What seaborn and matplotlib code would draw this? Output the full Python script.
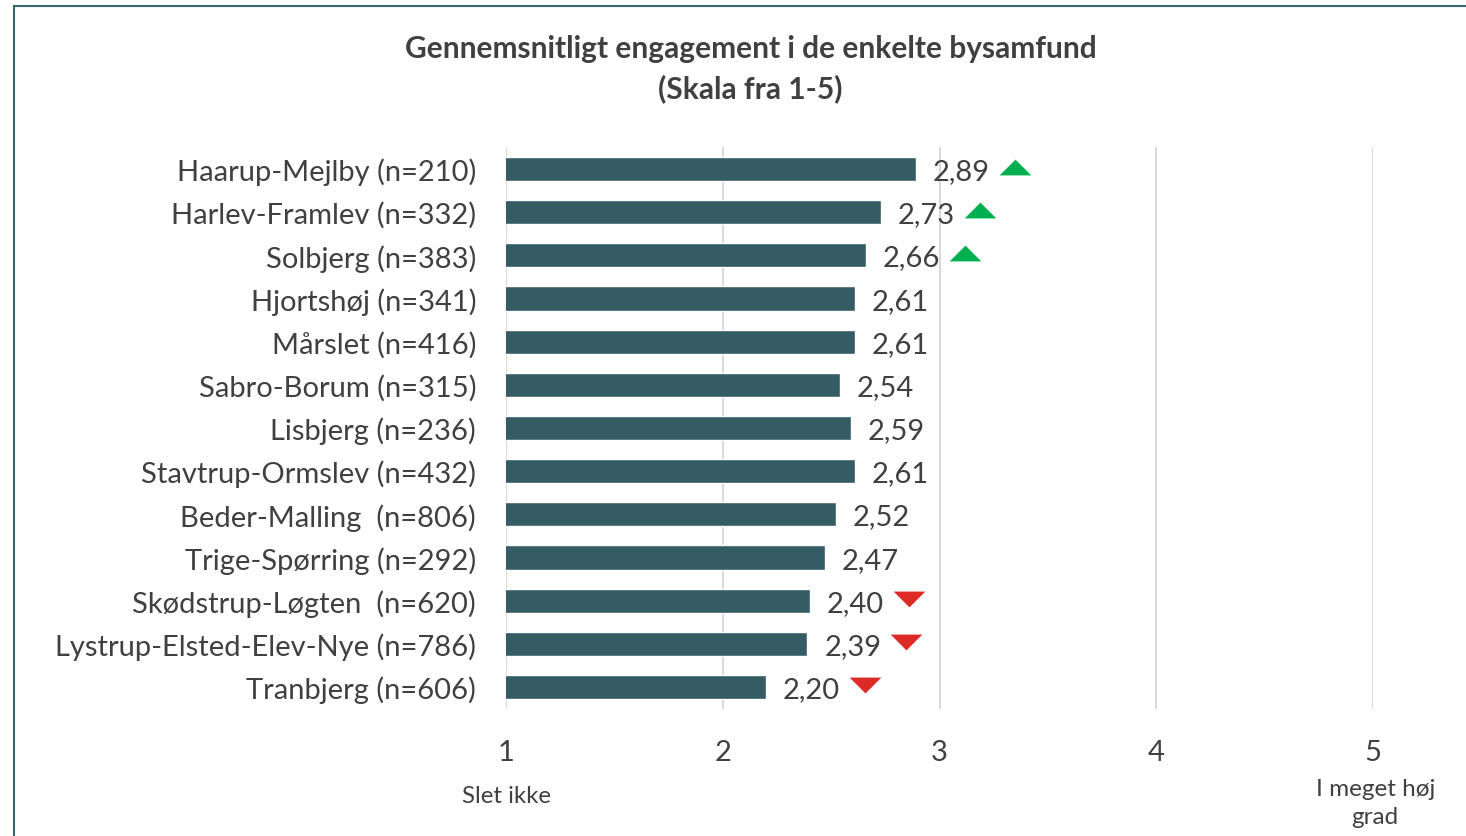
import matplotlib
matplotlib.use("Agg")
import matplotlib.pyplot as plt
import matplotlib.transforms as mtransforms
from matplotlib.patches import Rectangle
import seaborn as sns
import pandas as pd

categories = [
    "Haarup-Mejlby (n=210)",
    "Harlev-Framlev (n=332)",
    "Solbjerg (n=383)",
    "Hjortshøj (n=341)",
    "Mårslet (n=416)",
    "Sabro-Borum (n=315)",
    "Lisbjerg (n=236)",
    "Stavtrup-Ormslev (n=432)",
    "Beder-Malling  (n=806)",
    "Trige-Spørring (n=292)",
    "Skødstrup-Løgten  (n=620)",
    "Lystrup-Elsted-Elev-Nye (n=786)",
    "Tranbjerg (n=606)",
]
values = [2.89, 2.73, 2.66, 2.61, 2.61, 2.54, 2.59, 2.61, 2.52, 2.47, 2.40, 2.39, 2.20]
trend = [1, 1, 1, 0, 0, 0, 0, 0, 0, 0, -1, -1, -1]
xticks = [1, 2, 3, 4, 5]

BAR = "#355C64"
TXT = "#404040"
GREEN = "#00B050"
RED = "#DD2A27"
FONT = ["Lato", "DejaVu Sans"]

sns.set_theme(style="white")
plt.rcParams["font.family"] = FONT

df = pd.DataFrame({"cat": categories, "val": values})

fig = plt.figure(figsize=(14.66, 8.37), dpi=100)
ax = fig.add_axes([0.3452, 0.1522, 0.5914, 0.6705])

sns.barplot(data=df, x="val", y="cat", orient="h", color=BAR, saturation=1,
            width=0.56, ax=ax, zorder=3)

ax.set_xlim(1, 5)
ax.set_ylim(len(categories) - 0.5, -0.5)
ax.set_xticks(xticks)
ax.set_xticklabels([str(t) for t in xticks])
ax.grid(axis="x", color="#D9D9D9", linewidth=1.5, zorder=0)
ax.grid(axis="y", visible=False)
for s in ax.spines.values():
    s.set_visible(False)
ax.set_xlabel("")
ax.set_ylabel("")
ax.tick_params(axis="x", length=0, pad=22, labelsize=21, labelcolor=TXT)
ax.tick_params(axis="y", length=0, pad=21.5, labelsize=21, labelcolor=TXT)

for i, v in enumerate(values):
    ax.annotate(f"{v:.2f}".replace(".", ","), xy=(v, i), xytext=(12.2, -1.5),
                textcoords="offset points", ha="left", va="center",
                fontsize=21, color=TXT)

tri_up = [(-1, -0.5), (1, -0.5), (0, 0.5)]
tri_dn = [(-1, 0.5), (1, 0.5), (0, -0.5)]
off = mtransforms.offset_copy(ax.transData, fig=fig, x=99, y=2, units="dots")
for i, (v, t) in enumerate(zip(values, trend)):
    if t == 0:
        continue
    ax.scatter([v], [i], marker=tri_up if t > 0 else tri_dn, s=520,
               color=GREEN if t > 0 else RED, transform=off, zorder=4,
               linewidths=0, clip_on=False)

fig.text(0.512, 0.941, "Gennemsnitligt engagement i de enkelte bysamfund",
         ha="center", va="center", fontsize=21.5, fontweight="bold", color=TXT)
fig.text(0.512, 0.894, "(Skala fra 1-5)",
         ha="center", va="center", fontsize=21.5, fontweight="bold", color=TXT)

ax.text(1, -0.155, "Slet ikke", transform=ax.get_xaxis_transform(),
        ha="center", va="center", fontsize=17.3, color=TXT)
ax.text(5.01, -0.167, "I meget høj\ngrad", transform=ax.get_xaxis_transform(),
        ha="center", va="center", fontsize=17.5, color=TXT, linespacing=1.45)

fig.patches.append(Rectangle((14 / 1466, -0.1), 1.2, 1 - 7 / 837 + 0.1,
                             transform=fig.transFigure, fill=False,
                             edgecolor="#3D6570", linewidth=1.5))

fig.savefig("out.png", dpi=100)
